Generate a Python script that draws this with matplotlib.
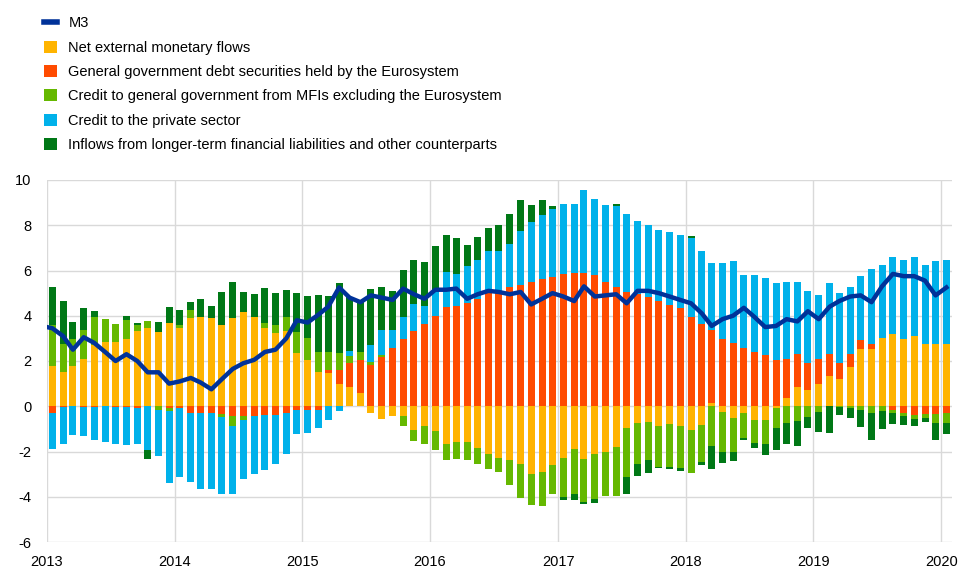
import matplotlib
matplotlib.use("Agg")
import matplotlib.pyplot as plt
import numpy as np
import pandas as pd
from matplotlib.patches import Patch
from matplotlib.lines import Line2D

plt.rcParams['font.family'] = ['Liberation Sans', 'DejaVu Sans']
plt.rcParams['axes.unicode_minus'] = False

# monthly data, Jan 2013 - Jan 2020 (annual growth, contributions in pp)
months = pd.date_range('2013-01-01', periods=85, freq='MS') + pd.Timedelta(days=15)

net_external = [1.77, 1.52, 1.77, 2.11, 2.7, 2.85, 2.82, 2.99, 3.33, 3.48, 3.27, 3.66,
                3.47, 3.92, 3.95, 3.88, 3.58, 3.92, 4.17, 3.95, 3.47, 3.24, 3.32, 2.36,
                2.06, 1.52, 1.45, 0.97, 0.83, 0.59, -0.28, -0.55, -0.44, -0.44, -1.03, -0.88,
                -1.1, -1.65, -1.58, -1.58, -1.83, -2.12, -2.27, -2.39, -2.57, -2.98, -2.92, -2.61,
                -2.27, -1.87, -2.32, -2.09, -2.02, -1.8, -0.96, -0.74, -0.69, -0.88, -0.8, -0.88,
                -1.06, -0.84, 0.15, -0.25, -0.5, -0.32, -0.62, -0.62, -0.06, 0.38, 0.86, 0.74,
                1.0, 1.34, 1.19, 1.74, 2.55, 2.52, 3.02, 3.19, 2.96, 3.11, 2.74, 2.74,
                2.77]
gov_debt_eurosystem = [-0.32, -0.05, 0.0, -0.03, -0.03, 0.0, -0.02, -0.05, -0.07, 0.0, 0.0, -0.06,
                       -0.06, -0.32, -0.32, -0.32, -0.35, -0.44, -0.44, -0.44, -0.4, -0.4, -0.32, -0.18,
                       -0.15, -0.18, 0.15, 0.65, 1.06, 1.47, 1.84, 2.18, 2.58, 2.96, 3.32, 3.63,
                       4.0, 4.4, 4.42, 4.57, 4.76, 4.99, 5.06, 5.25, 5.35, 5.5, 5.63, 5.72,
                       5.83, 5.87, 5.91, 5.78, 5.5, 5.28, 5.06, 4.96, 4.81, 4.65, 4.47, 4.35,
                       3.95, 3.63, 3.24, 2.99, 2.8, 2.58, 2.4, 2.26, 2.06, 1.73, 1.43, 1.19,
                       1.08, 0.96, 0.74, 0.56, 0.37, 0.22, 0.0, -0.15, -0.3, -0.4, -0.35, -0.35,
                       -0.28]
credit_gov_mfi = [1.81, 1.25, 1.19, 1.25, 1.25, 1.0, 0.81, 0.81, 0.28, 0.28, -0.18, -0.16,
                  0.12, 0.35, 0.0, 0.0, -0.12, -0.44, -0.18, 0.0, 0.19, 0.34, 0.63, 0.9,
                  0.97, 0.86, 0.78, 0.74, 0.35, 0.34, 0.1, 0.07, 0.0, -0.44, -0.5, -0.8,
                  -0.84, -0.74, -0.74, -0.81, -0.71, -0.66, -0.63, -1.1, -1.47, -1.37, -1.47, -1.25,
                  -1.74, -1.99, -1.92, -1.99, -1.96, -2.18, -2.17, -1.8, -1.7, -1.8, -1.89, -1.84,
                  -1.87, -1.62, -1.77, -1.78, -1.52, -1.08, -1.0, -1.03, -0.9, -0.72, -0.65, -0.47,
                  -0.25, 0.0, -0.05, -0.07, -0.15, -0.3, -0.21, -0.13, -0.15, -0.15, -0.19, -0.38,
                  -0.46]
credit_private = [-1.56, -1.6, -1.28, -1.3, -1.45, -1.58, -1.63, -1.67, -1.61, -1.92, -2.04, -3.17,
                  -3.06, -3.05, -3.32, -3.32, -3.39, -2.98, -2.58, -2.57, -2.43, -2.17, -1.77, -1.03,
                  -1.02, -0.77, -0.59, -0.22, 0.21, 0.0, 0.75, 1.11, 0.78, 0.99, 1.22, 0.8,
                  1.1, 1.55, 1.42, 1.62, 1.7, 1.87, 1.8, 1.92, 2.4, 2.65, 2.82, 2.98,
                  3.11, 3.05, 3.64, 3.36, 3.39, 3.57, 3.42, 3.24, 3.2, 3.14, 3.22, 3.2,
                  3.5, 3.24, 2.92, 3.36, 3.63, 3.24, 3.39, 3.42, 3.39, 3.39, 3.22, 3.17,
                  2.83, 3.13, 3.08, 2.98, 2.83, 3.33, 3.22, 3.39, 3.5, 3.47, 3.5, 3.67,
                  3.69]
longer_term = [1.7, 1.9, 0.77, 1.0, 0.27, 0.0, 0.0, 0.18, 0.05, -0.41, 0.46, 0.71,
               0.66, 0.34, 0.77, 0.55, 1.45, 1.55, 0.88, 1.03, 1.55, 1.43, 1.21, 1.76,
               1.83, 2.54, 2.51, 3.07, 2.39, 2.21, 2.51, 1.92, 1.73, 2.09, 1.92, 1.96,
               2.0, 1.62, 1.58, 0.93, 1.03, 1.0, 1.15, 1.31, 1.36, 0.74, 0.66, 0.15,
               -0.12, -0.3, -0.07, -0.19, 0.0, 0.07, -0.74, -0.56, -0.56, -0.07, -0.07, -0.15,
               0.07, -0.15, -0.99, -0.5, -0.41, -0.1, -0.21, -0.52, -0.96, -0.93, -1.12, -0.47,
               -0.88, -1.17, -0.32, -0.43, -0.77, -1.18, -0.81, -0.49, -0.37, -0.34, -0.15, -0.77,
               -0.5]

# M3 line, starts Dec 2012 so it runs into the left edge
m3_months = pd.date_range('2012-12-01', periods=86, freq='MS') + pd.Timedelta(days=15)
m3 = [3.55,
      3.45, 3.1, 2.5, 3.05, 2.8, 2.4, 2.0, 2.3, 2.0, 1.5, 1.5, 1.0,
      1.1, 1.25, 1.05, 0.75, 1.2, 1.65, 1.9, 2.05, 2.4, 2.5, 3.0, 3.8,
      3.7, 4.05, 4.4, 5.25, 4.8, 4.6, 4.9, 4.8, 4.7, 5.2, 4.95, 4.75,
      5.15, 5.15, 5.2, 4.75, 4.95, 5.1, 5.05, 4.95, 5.05, 4.5, 4.75, 5.0,
      4.85, 4.65, 5.3, 4.85, 4.9, 4.95, 4.55, 5.1, 5.1, 5.0, 4.85, 4.7,
      4.55, 4.1, 3.55, 3.85, 4.0, 4.35, 3.95, 3.5, 3.55, 3.85, 3.75, 4.2,
      3.85, 4.4, 4.65, 4.85, 4.9, 4.6, 5.3, 5.85, 5.75, 5.75, 5.55, 4.9,
      5.25]

labels = ["Net external monetary flows",
          "General government debt securities held by the Eurosystem",
          "Credit to general government from MFIs excluding the Eurosystem",
          "Credit to the private sector",
          "Inflows from longer-term financial liabilities and other counterparts"]
colors = ["#ffb400", "#ff4b00", "#65b800", "#00b1ea", "#007816"]
m3_color = "#003299"

fig = plt.figure(figsize=(9.66, 5.72), dpi=100)
ax = fig.add_axes([47/966, 30/572, 905/966, 362/572])

series = [net_external, gov_debt_eurosystem, credit_gov_mfi, credit_private, longer_term]
pos_bottom = np.zeros(len(months))
neg_bottom = np.zeros(len(months))
width = pd.Timedelta(days=20)
for vals, c in zip(series, colors):
    v = np.array(vals)
    pos = np.where(v > 0, v, 0)
    neg = np.where(v < 0, v, 0)
    ax.bar(months, pos, width, bottom=pos_bottom, color=c, zorder=2)
    ax.bar(months, neg, width, bottom=neg_bottom, color=c, zorder=2)
    pos_bottom += pos
    neg_bottom += neg

ax.plot(m3_months, m3, color=m3_color, lw=3.2, zorder=3, solid_joinstyle='round')

ax.set_xlim(pd.Timestamp('2013-01-01'), pd.Timestamp('2020-02-01'))
ax.set_ylim(-6, 10)
ax.set_yticks(np.arange(-6, 11, 2))
years = pd.date_range('2013-01-01', '2020-01-01', freq='YS')
ax.set_xticks(years)
ax.set_xticklabels([str(y.year) for y in years])
ax.grid(True, color="#d9d9d9", lw=1, zorder=0)
ax.set_axisbelow(True)
for s in ax.spines.values():
    s.set_visible(False)
ax.tick_params(length=0, labelsize=10.5, colors="black")
ax.tick_params(axis='y', pad=11)
ax.tick_params(axis='x', pad=9)

handles = [Line2D([0], [0], color=m3_color, lw=4)]
handles += [Patch(facecolor=c, edgecolor='none') for c in colors]
fig.legend(handles, ["M3"] + labels, loc='upper left', bbox_to_anchor=(0.029, 1.0),
           frameon=False, fontsize=10.55, handlelength=0.9, handleheight=0.9,
           labelspacing=0.70, handletextpad=0.75, borderpad=0.6)

fig.savefig("out.png", dpi=100)
